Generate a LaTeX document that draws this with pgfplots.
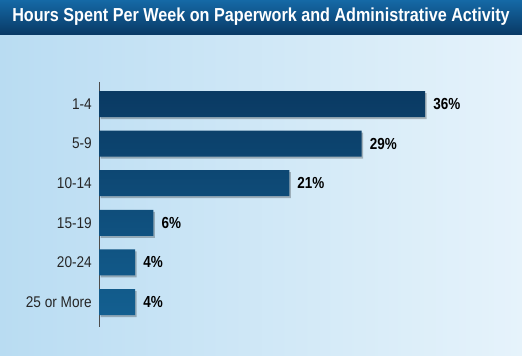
\documentclass[border=0pt]{standalone}
\usepackage{pgfplots}
\pgfplotsset{compat=1.18}
\usepackage{fontspec}
\setmainfont{Liberation Sans}
\newfontfamily\cond[FakeStretch=0.88]{Liberation Sans}
\newfontfamily\condbold[FakeStretch=0.84]{Liberation Sans Bold}
\newfontfamily\titlefont[FakeStretch=0.86]{Liberation Sans Bold}
\definecolor{bgl}{HTML}{B9DCF2}
\definecolor{bgr}{HTML}{E6F3FB}
\definecolor{tbtop}{HTML}{1569A6}
\definecolor{tbbot}{HTML}{093A66}
\definecolor{bartop}{HTML}{0A3A63}
\definecolor{barbot}{HTML}{135F90}
\begin{document}
\begin{tikzpicture}[x=1bp,y=1bp]
\useasboundingbox (0,0) rectangle (522,355);
\shade[left color=bgl, right color=bgr] (0,0) rectangle (522,321);
\shade[top color=tbtop, bottom color=tbbot] (0,321) rectangle (522,355);
\node[text=white, font=\titlefont\fontsize{18.8bp}{21bp}\selectfont] at (261,338) {Hours Spent Per Week on Paperwork and Administrative Activity};
\begin{axis}[
  at={(99bp,28bp)}, anchor=south west,
  scale only axis, width=423bp, height=245bp,
  xmin=0, xmax=46.69, ymin=-0.556, ymax=5.63,
  y dir=reverse,
  hide x axis,
  axis y line*=left,
  y axis line style={draw=black!70, line width=0.6pt},
  ytick={0,1,2,3,4,5},
  yticklabels={1-4,5-9,10-14,15-19,20-24,25 or More},
  ytick style={draw=none},
  yticklabel style={font=\cond\fontsize{15.5bp}{18bp}\selectfont, text=black!85, inner sep=0pt, anchor=east, xshift=-7bp},
  clip=false,
]
\addplot[xbar, bar shift=0pt, bar width=26bp, draw=none, fill=black, fill opacity=0.25, xshift=1.5bp, yshift=-2bp]
  coordinates {(36,0) (29,1) (21,2) (6,3) (4,4) (4,5)};
\addplot[xbar, bar shift=0pt, bar width=26bp, draw=none, top color=bartop, bottom color=barbot,
  point meta=explicit symbolic,
  nodes near coords,
  nodes near coords style={font=\condbold\fontsize{16bp}{18bp}\selectfont, text=black, anchor=west, inner sep=0pt, xshift=8bp}]
  coordinates {(36,0) [36\%] (29,1) [29\%] (21,2) [21\%] (6,3) [6\%] (4,4) [4\%] (4,5) [4\%]};
\end{axis}
\end{tikzpicture}
\end{document}
